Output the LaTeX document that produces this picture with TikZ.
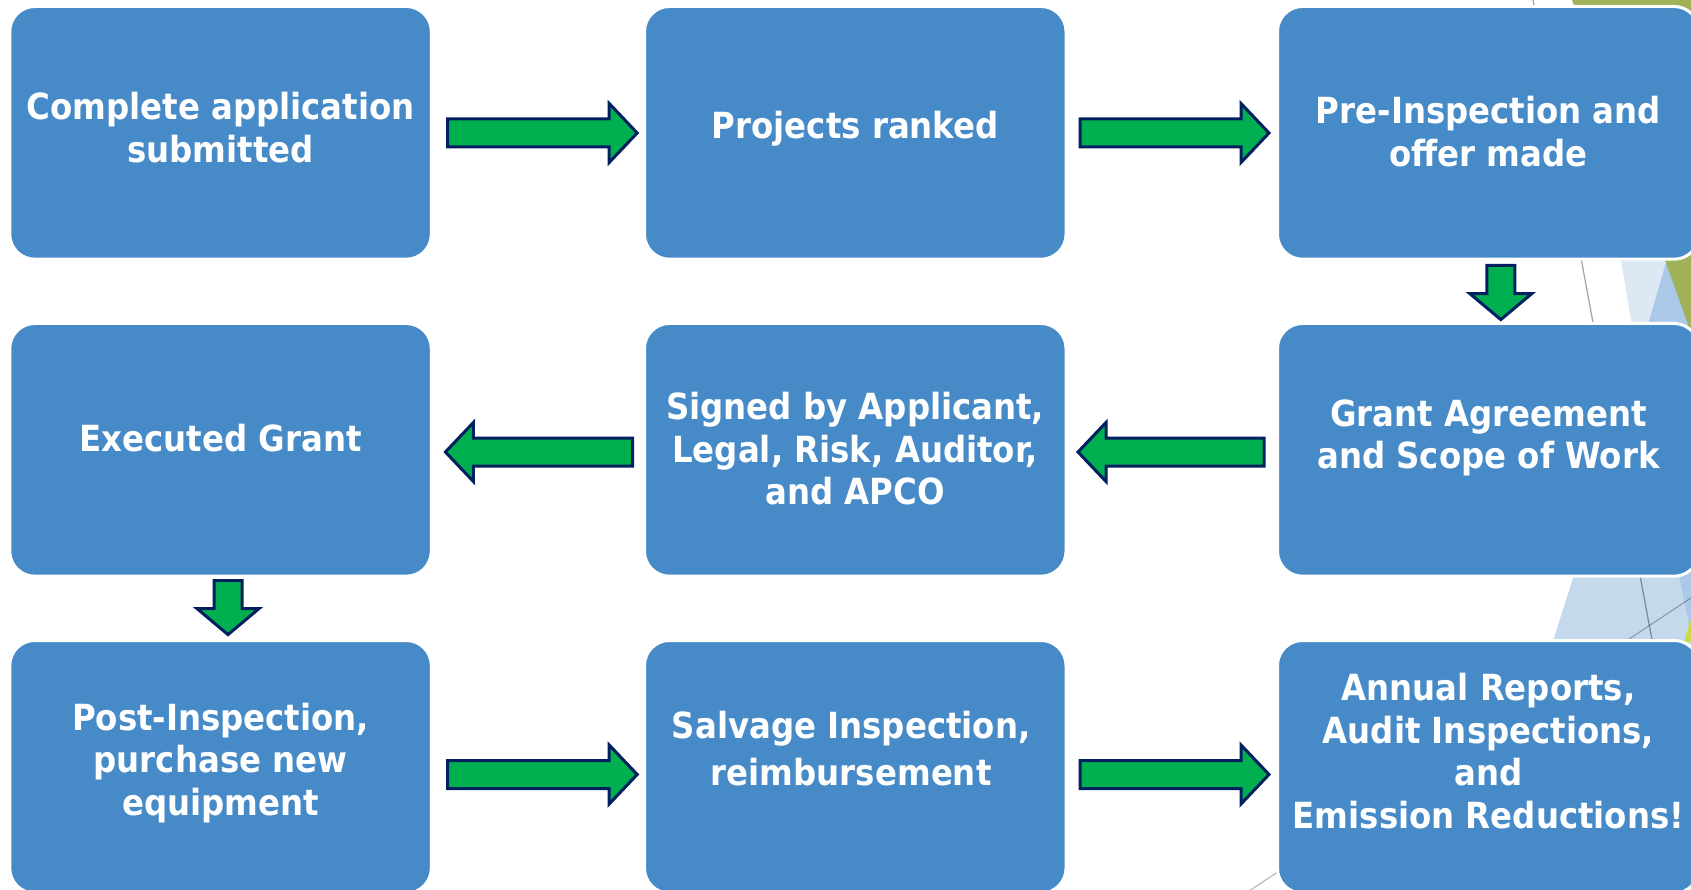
\documentclass[tikz,border=0pt]{standalone}
\usepackage{fontspec}
\newfontfamily\boxfont{DejaVu Sans Condensed}
\definecolor{boxblue}{RGB}{70,138,200}
\definecolor{arrgreen}{RGB}{0,176,80}
\definecolor{arrnavy}{RGB}{0,32,96}
\definecolor{facetolive}{RGB}{160,178,88}
\definecolor{facetpale}{RGB}{220,232,244}
\definecolor{facetmid}{RGB}{172,200,232}
\definecolor{facetlight}{RGB}{197,217,237}
\definecolor{facetlime}{RGB}{200,220,70}
\newcommand\ls{\rule[-9pt]{0pt}{42.6pt}}
\newcommand\arrR[3]{\draw[barrow] (#1,#3-14) -- ({#2-28},#3-14) -- ({#2-28},#3-29.5) -- (#2,#3) -- ({#2-28},#3+29.5) -- ({#2-28},#3+14) -- (#1,#3+14) -- cycle;}
\newcommand\arrL[3]{\draw[barrow] (#1,#3-14) -- ({#2+28},#3-14) -- ({#2+28},#3-29.5) -- (#2,#3) -- ({#2+28},#3+29.5) -- ({#2+28},#3+14) -- (#1,#3+14) -- cycle;}
\newcommand\arrD[3]{\draw[barrow] ({#1-14},#2) -- ({#1+14},#2) -- ({#1+14},#3-26) -- ({#1+31},#3-26) -- (#1,#3) -- ({#1-31},#3-26) -- ({#1-14},#3-26) -- cycle;}
\tikzset{
  box/.style={rectangle, rounded corners=25pt, fill=boxblue, draw=white, line width=3pt,
    minimum width=421.5pt, minimum height=252.7pt, inner sep=0pt},
  txt/.style={align=center, text=white, inner sep=0pt,
    font=\boxfont\bfseries\fontsize{36}{42.6}\selectfont},
  widetxt/.style={txt, font=\boxfont\bfseries\fontsize{36}{46.7}\selectfont},
  barrow/.style={fill=arrgreen, draw=arrnavy, line width=3pt, line join=miter},
  facetline/.style={draw=black, line width=1.3pt},
}
\begin{document}
\begin{tikzpicture}[x=1pt,y=-1pt]
\useasboundingbox (0,0) rectangle (1691,890);
\clip (0,0) rectangle (1691,890);
% background facets
\fill[facetpale] (1576.6,0) -- (1700,0) -- (1700,335) -- (1633.6,335) -- cycle;
\fill[facetmid] (1669,252) -- (1700,252) -- (1700,335) -- (1645,335) -- cycle;
\fill[facetolive] (1572,0) -- (1700,0) -- (1700,358) -- cycle;
\fill[facetlight] (1578.7,560) -- (1700,560) -- (1700,660) -- (1547,660) -- cycle;
\fill[facetmid] (1678,570) -- (1700,570) -- (1700,640) -- (1692,640) -- cycle;
\fill[facetlime] (1684,642) -- (1692,616) -- (1692,642) -- cycle;
\draw[facetline, opacity=0.35] (1533,0) -- (1698.5,890);
\draw[facetline, opacity=0.25] (1240,897) -- (1700,592);
% boxes
\node[box] (b1) at (220.55,132.85) {};
\node[box] (b2) at (855.25,132.85) {};
\node[box] (b3) at (1488.25,132.85) {};
\node[box] (b4) at (220.55,449.85) {};
\node[box] (b5) at (855.25,449.85) {};
\node[box] (b6) at (1488.25,449.85) {};
\node[box] (b7) at (220.55,766.85) {};
\node[box] (b8) at (855.25,766.85) {};
\node[box] (b9) at (1488.25,766.85) {};
% texts
\node[txt] (t1) at (220.6,128.7) {\ls Complete application\\\ls submitted};
\node[txt] (t2) at (855.25,126.7) {\ls Projects ranked};
\node[txt] (t3) at (1488.5,133) {\ls Pre-Inspection and\\\ls offer made};
\node[txt] (t4) at (220.6,439.6) {\ls Executed Grant};
\node[txt] (t5) at (855.25,449.8) {\ls Signed by Applicant,\\\ls Legal, Risk, Auditor,\\\ls and APCO};
\node[txt] (t6) at (1488.5,435) {\ls Grant Agreement\\\ls and Scope of Work};
\node[txt] (t7) at (220.6,760.3) {\ls Post-Inspection,\\\ls purchase new\\\ls equipment};
\node[widetxt] (t8) at (851.2,749.4) {\ls Salvage Inspection,\\\ls reimbursement};
\node[txt] (t9) at (1488.5,752.3) {\ls Annual Reports,\\\ls Audit Inspections,\\\ls and\\\ls Emission Reductions!};
% block arrows
\arrR{447.5}{637.2}{133}
\arrR{1080}{1269}{133}
\arrD{1500.8}{265.5}{319.6}
\arrL{1264}{1078}{452}
\arrL{632.5}{445.4}{452}
\arrD{228}{580.5}{634.6}
\arrR{447.5}{637.2}{774.5}
\arrR{1080}{1269}{774.5}
\end{tikzpicture}
\end{document}
